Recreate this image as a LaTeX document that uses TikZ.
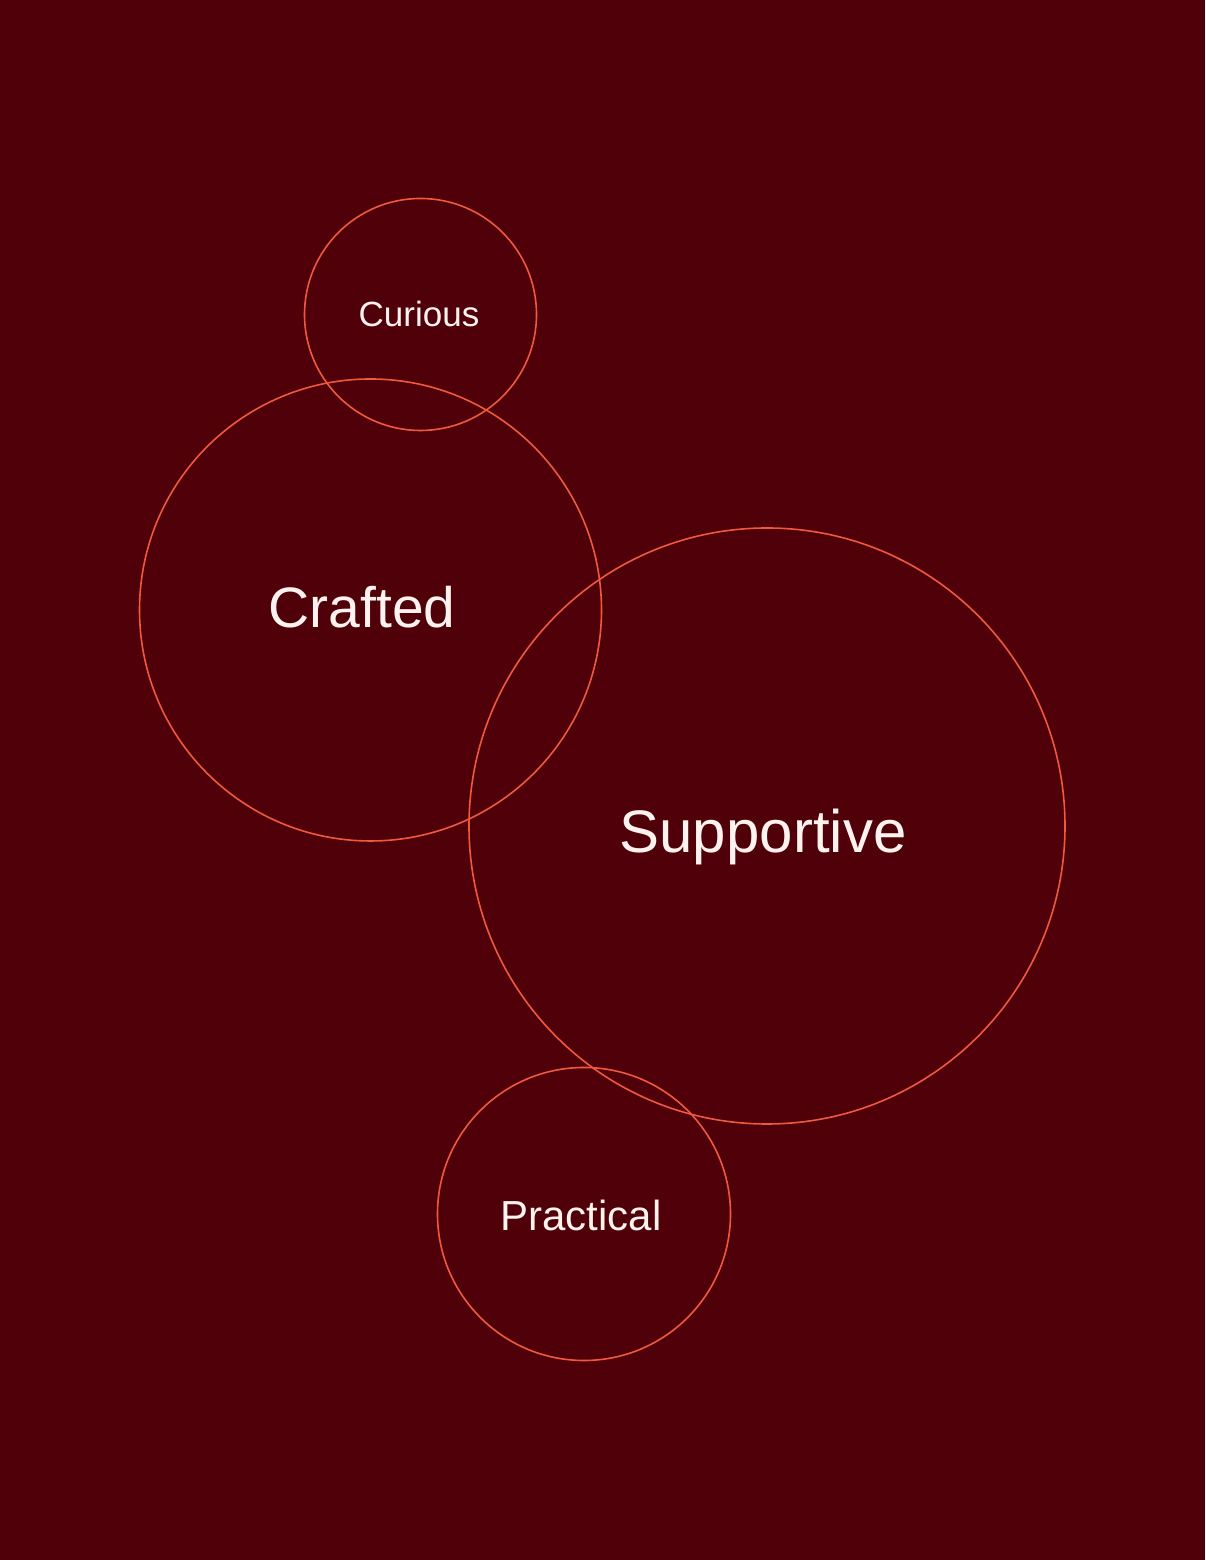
\documentclass[tikz,border=0pt]{standalone}
\usepackage{fontspec}
\setmainfont{Liberation Sans}
\definecolor{bg}{HTML}{4F0008}
\definecolor{ring}{HTML}{F0583F}
\definecolor{txt}{HTML}{FFF2EF}
\begin{document}
\begin{tikzpicture}[x=1pt,y=1pt,
  ringc/.style={draw=ring,line width=1.6pt,circle,inner sep=0pt},
  lbl/.style={text=txt,inner sep=0pt}]
\fill[bg] (0,0) rectangle (1205,1560);
\useasboundingbox (0,0) rectangle (1205,1560);
\node[ringc,minimum size=232pt] (curious) at (420.5,1245.5) {};
\node[ringc,minimum size=462pt] (crafted) at (370.5,950) {};
\node[ringc,minimum size=596pt] (supportive) at (767,734) {};
\node[ringc,minimum size=293pt] (practical) at (584,346) {};
\node[lbl,font=\fontsize{35}{40}\selectfont] (tcurious) at (419,1246) {Curious};
\node[lbl,font=\fontsize{57}{64}\selectfont] (tcrafted) at (362,953) {Crafted};
\node[lbl,font=\fontsize{60}{68}\selectfont] (tsupportive) at (763,723) {Supportive};
\node[lbl,font=\fontsize{42}{48}\selectfont] (tpractical) at (581,345) {Practical};
\end{tikzpicture}
\end{document}
